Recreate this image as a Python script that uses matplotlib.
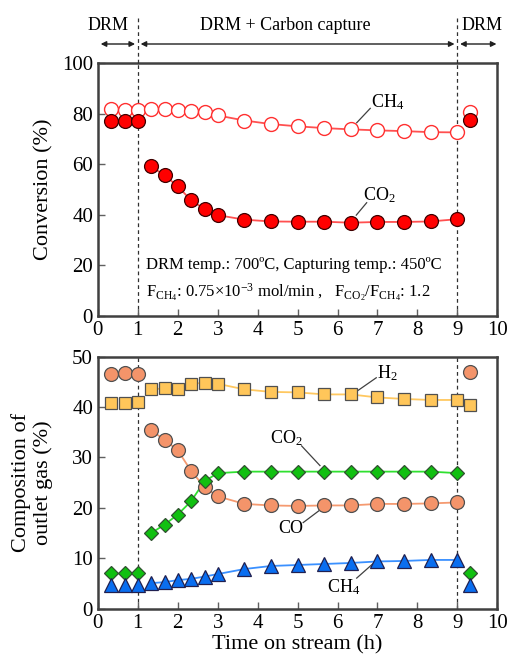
import numpy as np
import matplotlib
matplotlib.use('Agg')
import matplotlib.pyplot as plt

plt.rcParams['font.family'] = ['Liberation Serif', 'DejaVu Serif']
plt.rcParams['mathtext.fontset'] = 'custom'
plt.rcParams['mathtext.rm'] = 'Liberation Serif'
plt.rcParams['mathtext.it'] = 'Liberation Serif'

# time on stream (h)
time = [0.33, 0.67, 1.0, 1.33, 1.67, 2.0, 2.33, 2.67, 3.0, 3.67, 4.33,
        5.0, 5.67, 6.33, 7.0, 7.67, 8.33, 9.0, 9.33]

# conversion (%)
conv_ch4 = [81.7, 81.4, 81.4, 82.0, 82.0, 81.3, 81.2, 80.5, 79.3, 77.3, 75.9,
            75.0, 74.3, 73.8, 73.4, 73.1, 72.7, 72.6, 80.8]
conv_co2 = [77.2, 77.2, 77.2, 59.2, 55.6, 51.3, 45.8, 42.3, 39.9, 38.1, 37.4,
            37.3, 37.3, 36.9, 37.2, 37.2, 37.4, 38.3, 77.5]

# outlet gas composition (%)
comp_h2 = [40.8, 40.7, 41.0, 43.5, 43.7, 43.5, 44.6, 44.8, 44.6, 43.5, 43.0,
           42.9, 42.5, 42.5, 41.9, 41.6, 41.4, 41.4, 40.4]
comp_co = [46.6, 46.8, 46.6, 35.4, 33.5, 31.4, 27.4, 24.1, 22.3, 20.8, 20.5,
           20.4, 20.5, 20.5, 20.8, 20.8, 20.9, 21.1, 46.9]
comp_co2 = [7.2, 7.2, 7.2, 15.0, 16.7, 18.7, 21.3, 25.3, 26.9, 27.2, 27.2,
            27.2, 27.2, 27.2, 27.2, 27.2, 27.2, 26.9, 7.1]
comp_ch4 = [4.7, 4.7, 4.7, 5.1, 5.3, 5.7, 5.95, 6.4, 6.9, 7.9, 8.5,
            8.7, 8.9, 9.1, 9.4, 9.5, 9.7, 9.7, 4.7]

t = np.array(time)
cap = (t > 1.1) & (t < 9.1)   # DRM + carbon capture period (lines drawn here)

fig = plt.figure(figsize=(5.10, 6.64), dpi=100)
ax1 = fig.add_axes([0.192, 0.524, 0.783, 0.381])
ax2 = fig.add_axes([0.192, 0.083, 0.783, 0.380])

spine_c = '#404040'
for ax in (ax1, ax2):
    for s in ax.spines.values():
        s.set_linewidth(1.8)
        s.set_color(spine_c)
    ax.tick_params(direction='in', length=5, width=1, labelsize=15,
                   color='#606060', right=False, top=False)
    ax.set_xlim(0, 10)
    ax.set_xticks(range(0, 11))
    for xv in (1, 9):
        ax.axvline(xv, color='#303030', ls=(0, (3, 2.5)), lw=0.9, zorder=1)

ms = 10
ew = 0.9

# ---- top panel: conversion
c_ch4 = np.array(conv_ch4)
c_co2 = np.array(conv_co2)
ax1.plot(t[cap], c_ch4[cap], color='#ff5050', lw=1.3, zorder=2)
ax1.plot(t[cap], c_co2[cap], color='#ff5050', lw=1.3, zorder=2)
ax1.plot(t, c_ch4, 'o', ms=ms, mfc='white', mec='#ff3030', mew=1.0, ls='none', zorder=3)
ax1.plot(t, c_co2, 'o', ms=ms, mfc='#ff0000', mec='#400000', mew=ew, ls='none', zorder=4)
ax1.set_ylim(0, 100)
ax1.set_yticks(range(0, 101, 20))
ax1.set_ylabel('Conversion (%)', fontsize=16)
ax1.yaxis.set_label_coords(-0.112, 0.5)

ax1.plot([6.48, 6.82], [76.4, 82.1], color='#404040', lw=0.9)
ax1.text(6.85, 84.5, r'CH$_4$', fontsize=13, ha='left', va='center')
ax1.plot([6.47, 6.73], [39.9, 44.8], color='#404040', lw=0.9)
ax1.text(6.65, 47.8, r'CO$_2$', fontsize=13, ha='left', va='center')

ax1.text(1.2, 20.2, 'DRM temp.: 700ºC, Capturing temp.: 450ºC',
         fontsize=12, ha='left', va='center')
ax1.text(1.2, 9.4,
         r'F$_{\mathrm{CH_4}}$: 0.75$\times$10$^{-3}$ mol/min ,   '
         r'F$_{\mathrm{CO_2}}$/F$_{\mathrm{CH_4}}$: 1.2',
         fontsize=12, ha='left', va='center')

# ---- bottom panel: composition
h2 = np.array(comp_h2)
co = np.array(comp_co)
co2 = np.array(comp_co2)
ch4 = np.array(comp_ch4)
ax2.plot(t[cap], h2[cap], color='#ffc860', lw=1.3, zorder=2)
ax2.plot(t[cap], co[cap], color='#f59a70', lw=1.3, zorder=2)
ax2.plot(t[cap], co2[cap], color='#30e030', lw=1.3, zorder=2)
ax2.plot(t[cap], ch4[cap], color='#3a90ff', lw=1.3, zorder=2)
ax2.plot(t, h2, 's', ms=9, mfc='#ffc65a', mec='#505050', mew=ew, ls='none', zorder=3)
ax2.plot(t, co, 'o', ms=ms, mfc='#f4946a', mec='#505050', mew=ew, ls='none', zorder=3)
ax2.plot(t, co2, 'D', ms=7.5, mfc='#10c010', mec='#305030', mew=ew, ls='none', zorder=4)
ax2.plot(t, ch4, '^', ms=10, mfc='#0a6ef0', mec='#202050', mew=ew, ls='none', zorder=4)
ax2.set_ylim(0, 50)
ax2.set_yticks(range(0, 51, 10))
ax2.set_ylabel('Composition of\noutlet gas (%)', fontsize=16, linespacing=1.15)
ax2.yaxis.set_label_coords(-0.112, 0.5)
ax2.set_xlabel('Time on stream (h)', fontsize=16, labelpad=2)

ax2.plot([6.48, 6.97], [43.1, 45.8], color='#404040', lw=0.9)
ax2.text(7.0, 46.8, r'H$_2$', fontsize=13, ha='left', va='center')
ax2.plot([5.1, 5.56], [32.3, 28.4], color='#404040', lw=0.9)
ax2.text(4.72, 33.9, r'CO$_2$', fontsize=13, ha='center', va='center')
ax2.plot([5.14, 5.56], [17.1, 19.6], color='#404040', lw=0.9)
ax2.text(4.82, 16.0, 'CO', fontsize=13, ha='center', va='center')
ax2.plot([6.48, 6.88], [6.1, 8.9], color='#404040', lw=0.9)
ax2.text(6.15, 4.4, r'CH$_4$', fontsize=13, ha='center', va='center')

# ---- header with period arrows
x0f, x1f = 0.192, 0.975
def fx(v):
    return x0f + (x1f - x0f) * v / 10.0

ya = 1 - 44 / 664
for a, b in ((0, 1), (1, 9), (9, 10.05)):
    fig.add_artist(matplotlib.patches.FancyArrowPatch(
        (fx(a), ya), (fx(b), ya), transform=fig.transFigure,
        arrowstyle='<|-|>', mutation_scale=8, lw=1.0, color='#202020'))
for xv in (1, 9):
    fig.add_artist(matplotlib.lines.Line2D([fx(xv), fx(xv)], [1 - 18 / 664, 0.905],
                                           transform=fig.transFigure, color='#303030',
                                           ls=(0, (3, 2.5)), lw=0.9))
yt = 1 - 26 / 664
fig.text(fx(0.25), yt, 'DRM', fontsize=13, ha='center', va='center')
fig.text(fx(4.7), yt, 'DRM + Carbon capture', fontsize=13, ha='center', va='center')
fig.text(fx(9.62), yt, 'DRM', fontsize=13, ha='center', va='center')

fig.savefig('out.png', dpi=100)
